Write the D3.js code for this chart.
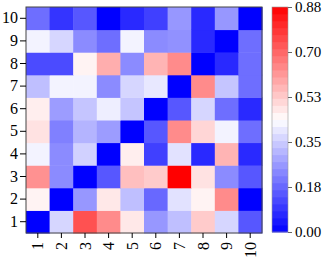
<!DOCTYPE html>
<html>
<head>
<meta charset="utf-8">
<script src="https://cdn.jsdelivr.net/npm/d3@7"></script>
<style>
  body { margin: 0; background: #fff; }
  text { font-family: "Liberation Serif", "Times New Roman", serif; fill: #000; }
</style>
</head>
<body>
<svg id="chart" width="325" height="259"></svg>
<script>
// DATA
const xCats = ['1', '2', '3', '4', '5', '6', '7', '8', '9', '10']
const yCats = ['1', '2', '3', '4', '5', '6', '7', '8', '9', '10']
// one row per y category (bottom to top), one value per x category
const values = [
    [0.00, 0.37, 0.74, 0.64, 0.48, 0.26, 0.33, 0.53, 0.37, 0.15],
    [0.46, 0.00, 0.26, 0.48, 0.33, 0.18, 0.39, 0.46, 0.64, 0.00],
    [0.63, 0.24, 0.00, 0.15, 0.55, 0.53, 0.88, 0.49, 0.24, 0.15],
    [0.42, 0.24, 0.36, 0.00, 0.47, 0.11, 0.39, 0.07, 0.57, 0.07],
    [0.49, 0.22, 0.31, 0.27, 0.00, 0.15, 0.64, 0.51, 0.42, 0.19],
    [0.47, 0.27, 0.34, 0.41, 0.34, 0.00, 0.15, 0.37, 0.19, 0.07],
    [0.33, 0.42, 0.42, 0.24, 0.37, 0.40, 0.00, 0.64, 0.34, 0.19],
    [0.13, 0.13, 0.46, 0.58, 0.24, 0.57, 0.64, 0.00, 0.07, 0.19],
    [0.42, 0.37, 0.24, 0.19, 0.42, 0.24, 0.25, 0.07, 0.00, 0.19],
    [0.19, 0.09, 0.15, 0.00, 0.07, 0.11, 0.26, 0.07, 0.26, 0.00]
]
const vMax = 0.88
const cbarTicks = [0, 0.176, 0.352, 0.528, 0.704, 0.88]

// LAYOUT
const plot = { left: 26, top: 7, right: 262, bottom: 233 }
const cbar = { left: 272, width: 16 }

const svg = d3.select('#chart')

const x = d3.scaleBand().domain(xCats).range([plot.left, plot.right])
const y = d3.scaleBand().domain(yCats).range([plot.bottom, plot.top])
// bwr colormap: blue -> white -> red
const color = d3.scaleLinear().domain([0, vMax / 2, vMax]).range(['#0000ff', '#ffffff', '#ff0000']).clamp(true)

// Cells
const cells = []
values.forEach((row, i) => row.forEach((v, j) => cells.push({ x: xCats[j], y: yCats[i], v })))

svg.append('g').selectAll('rect')
    .data(cells)
    .join('rect')
    .attr('x', d => x(d.x))
    .attr('y', d => y(d.y))
    .attr('width', x.bandwidth() + 0.5)
    .attr('height', y.bandwidth() + 0.5)
    .attr('fill', d => color(d.v))

// Frame
svg.append('rect')
    .attr('x', plot.left).attr('y', plot.top)
    .attr('width', plot.right - plot.left).attr('height', plot.bottom - plot.top)
    .attr('fill', 'none').attr('stroke', '#444').attr('stroke-width', 1)

// Axes
const xAxis = svg.append('g')
    .attr('transform', `translate(0,${plot.bottom})`)
    .call(d3.axisBottom(x).tickSize(5).tickPadding(3))
xAxis.select('.domain').remove()
xAxis.selectAll('text')
    .attr('font-size', 16)
    .attr('transform', 'rotate(-90)')
    .attr('text-anchor', 'end')
    .attr('x', -9).attr('y', 0).attr('dy', '0.35em')

const yAxis = svg.append('g')
    .attr('transform', `translate(${plot.left},0)`)
    .call(d3.axisLeft(y).tickSize(6).tickPadding(2))
yAxis.select('.domain').remove()
yAxis.selectAll('text').attr('font-size', 16)

// Colorbar
const cy = d3.scaleLinear().domain([0, vMax]).range([plot.bottom - 1, plot.top])
const nBands = 32
const bands = d3.range(nBands)
const bandH = (cy(0) - cy(vMax)) / nBands
svg.append('g').selectAll('rect')
    .data(bands)
    .join('rect')
    .attr('x', cbar.left)
    .attr('y', i => cy(vMax * (i + 1) / nBands))
    .attr('width', cbar.width)
    .attr('height', bandH + 0.5)
    .attr('fill', i => color(vMax * (i + 0.5) / nBands))

svg.append('rect')
    .attr('x', cbar.left).attr('y', cy(vMax))
    .attr('width', cbar.width).attr('height', cy(0) - cy(vMax))
    .attr('fill', 'none').attr('stroke', '#999').attr('stroke-width', 0.6)

const cAxis = svg.append('g')
    .attr('transform', `translate(${cbar.left + cbar.width},0)`)
    .call(d3.axisRight(cy).tickValues(cbarTicks).tickFormat(d3.format('.2f')).tickSize(4).tickPadding(3))
cAxis.select('.domain').remove()
cAxis.selectAll('line').attr('stroke', '#666')
cAxis.selectAll('text').attr('font-size', 15)
</script>
</body>
</html>
